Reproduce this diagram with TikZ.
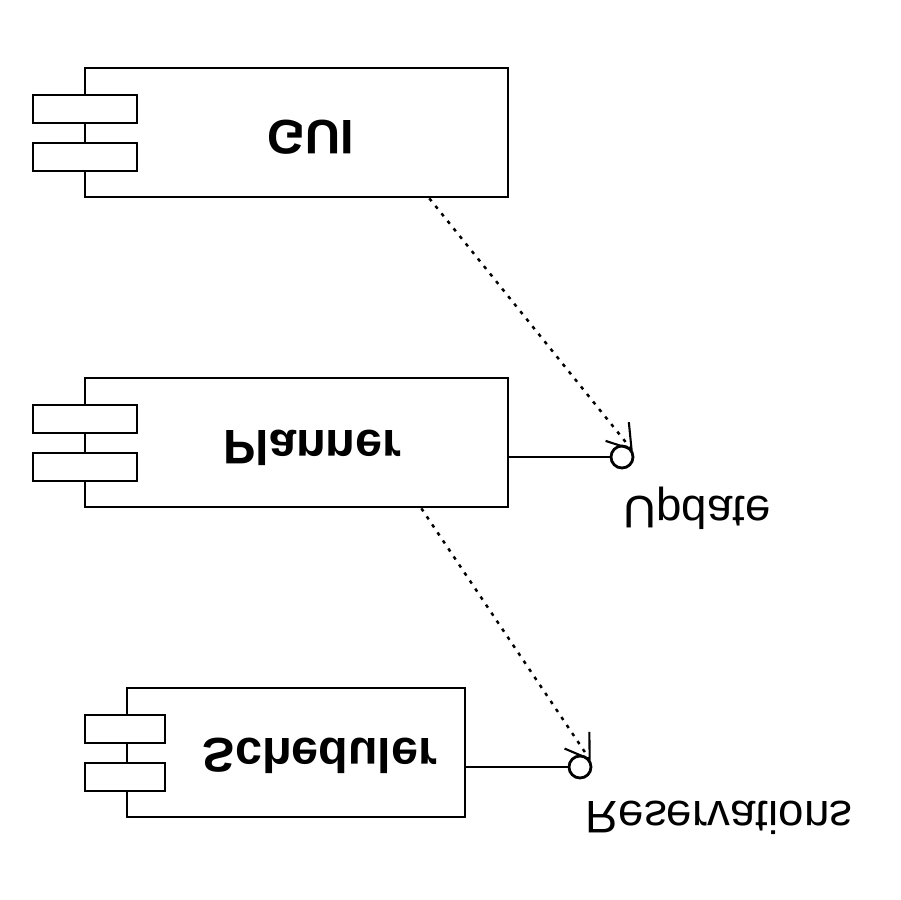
\documentclass[tikz,border=0pt]{standalone}
\usepackage{graphicx}
\usepackage{fontspec}
\setmainfont{Liberation Sans}
\usepackage{tikz}
\usetikzlibrary{arrows.meta, positioning, calc}

\begin{document}
\begin{tikzpicture}[x=0.02cm, y=-0.02cm,
  comp/.style={draw, line width=1.6pt, minimum height=2.58cm},
  comptext/.style={font=\fontsize{27.6}{30}\selectfont\bfseries},
  comptab/.style={draw, fill=white, line width=1.6pt, minimum height=0.56cm},
  iface/.style={circle, draw, fill=white, line width=1.6pt, minimum size=0.44cm, inner sep=0pt},
  ifacelabel/.style={font=\fontsize{26}{29}\selectfont},
  dep/.style={line width=1.4pt, dash pattern=on 2pt off 3.5pt, -{Straight Barb[length=13pt, width=17pt, line width=1.2pt]}}]
  \useasboundingbox (0,0) rectangle (900,900);

  % GUI component
  \node[comp, minimum width=8.46cm] (gui) at (296.5,132.5) {};
  \node[comptext] (gui text) at ($(gui)+(14.5,5)$) {\scalebox{1}[-1]{GUI}};
  \node[comptab, minimum width=2.08cm] (gui tab1) at (85,109) {};
  \node[comptab, minimum width=2.08cm] (gui tab2) at (85,157) {};

  % Planner component
  \node[comp, minimum width=8.46cm] (planner) at (296.5,442.5) {};
  \node[comptext] (planner text) at ($(planner)+(16,5)$) {\scalebox{1}[-1]{Planner}};
  \node[comptab, minimum width=2.08cm] (planner tab1) at (85,419) {};
  \node[comptab, minimum width=2.08cm] (planner tab2) at (85,467) {};

  % Scheduler component
  \node[comp, minimum width=6.76cm] (scheduler) at (296,752.5) {};
  \node[comptext] (scheduler text) at ($(scheduler)+(24,3)$) {\scalebox{1}[-1]{Scheduler}};
  \node[comptab, minimum width=1.6cm] (scheduler tab1) at (125,729) {};
  \node[comptab, minimum width=1.6cm] (scheduler tab2) at (125,777) {};

  % Interfaces
  \node[iface] (update) at (622,457) {};
  \node[ifacelabel] (update label) at (697,508) {\scalebox{1}[-1]{Update}};
  \node[iface] (reservations) at (580,767) {};
  \node[ifacelabel] (reservations label) at (719,818) {\scalebox{1}[-1]{Reservations}};

  \draw[line width=1.6pt] (planner.east |- update) -- (update);
  \draw[line width=1.6pt] (scheduler.east |- reservations) -- (reservations);

  % Dependencies
  \draw[dep] ($(gui.south east)+(-80,0)$) -- (update.30);
  \draw[dep] ($(planner.south east)+(-88,0)$) -- (reservations.30);
\end{tikzpicture}
\end{document}
